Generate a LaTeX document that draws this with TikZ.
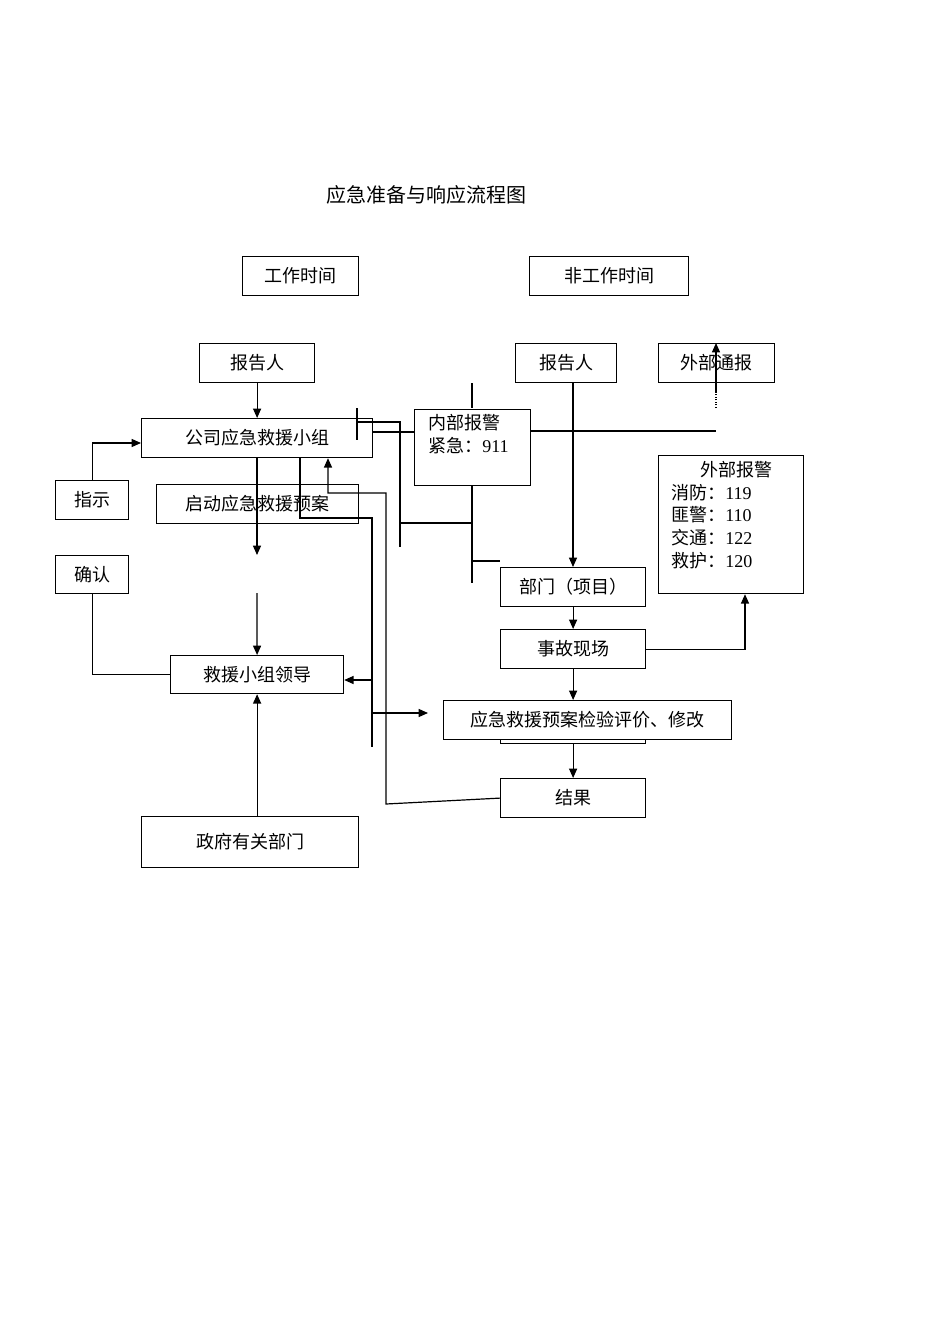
\documentclass[tikz,border=0pt]{standalone}
\usepackage{fontspec}
\setmainfont{Liberation Serif}
\newfontfamily\cjk{Noto Sans CJK SC}
\usetikzlibrary{arrows.meta}
\begin{document}
\begin{tikzpicture}[x=0.75pt,y=-0.75pt,
  every node/.style={font=\cjk\fontsize{13.5}{17}\selectfont},
  bx/.style={draw,line width=0.9pt,inner sep=0pt},
  ln/.style={line width=0.9pt},
  ar/.style={line width=0.9pt,-{Triangle[length=7pt,width=6pt]}}]
\useasboundingbox (0,0) rectangle (950,1344);
\newcommand{\bx}[6]{\node[bx,minimum width={0.75pt*(#4-#2)},minimum height={0.75pt*(#5-#3)},anchor=north west] (#1) at (#2,#3) {#6};}
\node (title) at (426,195) {\fontsize{15}{18}\selectfont 应急准备与响应流程图};
\bx{gz}{242}{256}{358}{295}{工作时间}
\bx{fgz}{529}{256}{688}{295}{非工作时间}
\bx{bgL}{199}{343}{314}{382}{报告人}
\bx{bgR}{515}{343}{616}{382}{报告人}
\bx{wbtb}{658}{343}{774}{382}{外部通报}
\bx{gs}{141}{418}{372}{457}{公司应急救援小组}
\bx{nb}{414}{409}{530}{485}{}
\node[anchor=north west,align=left,inner sep=0pt] (nbt) at (428,414) {内部报警\\紧急：{\rmfamily 911}};
\bx{zs}{55}{480}{128}{519}{指示}
\bx{qd}{156}{484}{358}{523}{启动应急救援预案}
\bx{wbbj}{658}{455}{803}{593}{}
\node[anchor=north west,align=left,inner sep=0pt] (wbt) at (671,461) {\hspace*{1.6em}外部报警\\消防：{\rmfamily 119}\\匪警：{\rmfamily 110}\\交通：{\rmfamily 122}\\救护：{\rmfamily 120}};
\bx{qr}{55}{555}{128}{593}{确认}
\bx{bm}{500}{567}{645}{606}{部门（项目）}
\bx{sg}{500}{629}{645}{668}{事故现场}
\bx{ld}{170}{655}{343}{693}{救援小组领导}
\bx{bk}{500}{700}{645}{743}{}
\node[bx,fill=white,minimum width={0.75pt*288},minimum height={0.75pt*39},anchor=north west] (jy) at (443,700) {应急救援预案检验评价、修改};
\bx{jg}{500}{778}{645}{817}{结果}
\bx{zf}{141}{816}{358}{867}{政府有关部门}
\coordinate (c1) at (257,555); \coordinate (c2) at (257,593);
\draw[ar] (bgL) -- (gs);
\draw[ar] (gs.south -| c1) -- (c1);
\draw[ar] (c2) -- (ld);
\draw[ar] (zf.north -| ld) -- (ld);
\draw[ln] (ld.west) -| (qr.south);
\draw[ar] (zs.north) |- (141,443);
\draw[ln] (357,408) -- (357,440);
\draw[ln] (357,422) -- (400,422) -- (400,547);
\draw[ln] (372,432) -- (nb.west |- 0,432);
\draw[ln] (nb.east |- 0,431) -- (716,431);
\draw[ln,densely dotted] (716,408) -- (716,392);
\draw[ar] (716,392) -- (wbtb.north -| 716,0);
\draw[ln] (472,383) -- (472,408);
\draw[ln] (472,485) -- (472,583);
\draw[ln] (400,523) -- (472,523);
\draw[ln] (472,561) -- (500,561);
\draw[ar] (bgR.south -| 573,0) -- (bm.north -| 573,0);
\draw[ar] (bm) -- (sg);
\draw[ar] (sg) -- (jy.north -| sg);
\draw[ar] (bk.south) -- (jg);
\draw[ar] (sg.east) -| (wbbj.south -| 745,0);
\draw[ar] (jg.west) -- (386,804) -- (386,493) -- (328,493) -- (gs.south -| 328,0);
\draw[ln] (gs.south -| 300,0) -- (300,518) -- (372,518) -- (372,747);
\draw[ar] (372,680) -- (ld.east |- 0,680);
\draw[ar] (372,713) -- (428,713);
\end{tikzpicture}
\end{document}
